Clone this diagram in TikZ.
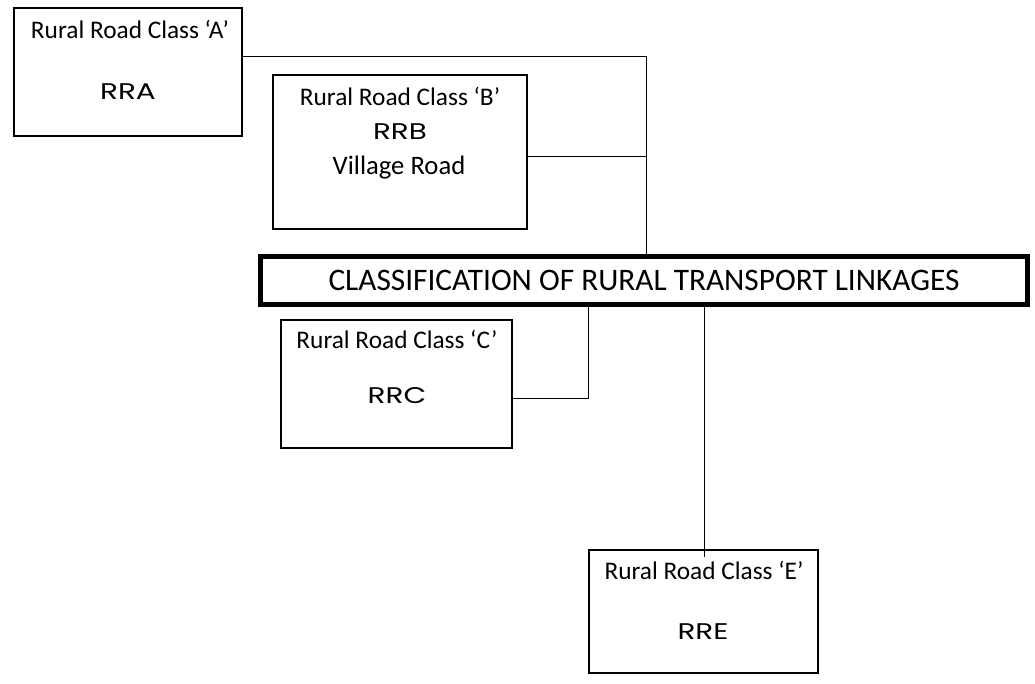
\documentclass[tikz,border=0pt]{standalone}
\usepackage{fontspec}
\setmainfont{Carlito}
\newfontfamily\codefont[FakeStretch=1.3]{Poppins}
\usetikzlibrary{positioning}

\begin{document}
\begin{tikzpicture}[x=0.75pt, y=-0.75pt,
  classbox/.style={draw, line width=1.5pt, inner sep=0pt, fill=white},
  titlebox/.style={draw, line width=3.75pt, inner sep=0pt, fill=white,
    minimum width=575pt, minimum height=36pt, font=\fontsize{23.5}{27}\selectfont},
  classname/.style={font=\fontsize{19}{22}\selectfont, inner sep=0pt},
  classcode/.style={font=\codefont\fontsize{17}{20}\selectfont, inner sep=0pt},
  link/.style={line width=0.7pt}
]
\useasboundingbox (0,0) rectangle (1035,683);

% joints of the connectors
\coordinate (jA) at (646,56);
\coordinate (jB) at (646,156);
\coordinate (jC) at (588,398);
\coordinate (jE) at (704,557);

% connectors
\draw[link] (jA -| 242,0) -- (jA) -- (646,256);
\draw[link] (jB -| 527,0) -- (jB);
\draw[link] (588,303) -- (jC) -- (jC -| 512,0);
\draw[link] (704,303) -- (jE);

\node[titlebox] (title) at (644,280.5) {CLASSIFICATION OF RURAL TRANSPORT LINKAGES};

\node[classbox, minimum width=171pt, minimum height=96pt] (boxA) at (127.5,71.5) {};
\node[classname] (nameA) at (130,29) {Rural Road Class ‘A’};
\node[classcode] (codeA) at (128,92) {RRA};

\node[classbox, minimum width=190.5pt, minimum height=115.5pt] (boxB) at (399.5,151.5) {};
\node[classname] (nameB) at (400,96) {Rural Road Class ‘B’};
\node[classcode] (codeB) at (400,132) {RRB};
\node[font=\fontsize{20}{23}\selectfont, inner sep=0pt] (villB) at (399,168) {Village Road};

\node[classbox, minimum width=173.25pt, minimum height=96pt] (boxC) at (396,383.5) {};
\node[classname] (nameC) at (397,339) {Rural Road Class ‘C’};
\node[classcode] (codeC) at (397,396) {RRC};

\node[classbox, fill=none, minimum width=171.75pt, minimum height=92.25pt] (boxE) at (703,611) {};
\node[classname] (nameE) at (704,570) {Rural Road Class ‘E’};
\node[classcode] (codeE) at (703,632) {RRE};
\end{tikzpicture}
\end{document}
